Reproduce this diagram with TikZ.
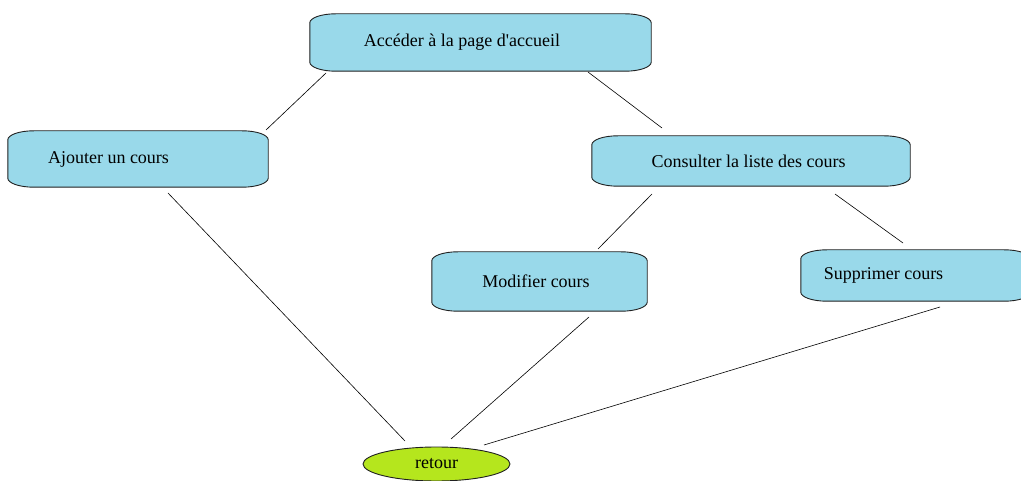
\documentclass[tikz,border=0pt]{standalone}
\usepackage{fontspec}
% plain family: keeps the straight apostrophe as typed
\newfontfamily\labelfont{Liberation Serif}
\usetikzlibrary{backgrounds,shapes.geometric}

\definecolor{boxblue}{HTML}{99D9EA}
\definecolor{ovalgreen}{HTML}{B5E61D}
\definecolor{edgegray}{HTML}{202020}

\tikzset{
  usecase/.style={rectangle, draw=none, inner sep=0pt,
    font=\labelfont\fontsize{18}{20}\selectfont, text=black},
  capsulepath/.style={fill=boxblue, draw=edgegray, line width=0.9pt},
  retourstyle/.style={ellipse, fill=ovalgreen, draw=edgegray, line width=0.9pt,
    inner sep=0pt, font=\labelfont\fontsize{18}{20}\selectfont},
  link/.style={draw=black, line width=0.6pt},
}

% Rectangle with flattened elliptical corners drawn behind node #1
\newcommand\capsuleshape[1]{%
  \path[capsulepath]
    ([xshift=26pt]#1.north west) -- ([xshift=-26pt]#1.north east)
    arc[start angle=90, end angle=0, x radius=26pt, y radius=9pt]
    -- ([yshift=9pt]#1.south east)
    arc[start angle=0, end angle=-90, x radius=26pt, y radius=9pt]
    -- ([xshift=26pt]#1.south west)
    arc[start angle=270, end angle=180, x radius=26pt, y radius=9pt]
    -- ([yshift=-9pt]#1.north west)
    arc[start angle=180, end angle=90, x radius=26pt, y radius=9pt]
    -- cycle;}

\begin{document}
\begin{tikzpicture}[x=1pt, y=-1pt]
  \useasboundingbox (0,0) rectangle (1021,481);
  \clip (0,0) rectangle (1021,481);

  % use cases
  \node[usecase, minimum width=341pt, minimum height=57pt] (acc) at (480.5,42.5)
    {Accéder à la page d'accueil\hspace*{37pt}};
  \node[usecase, minimum width=260pt, minimum height=56pt] (ajout) at (138,159)
    {Ajouter un cours\hspace*{59pt}};
  \node[usecase, minimum width=318pt, minimum height=50pt] (liste) at (751,161)
    {Consulter la liste des cours\hspace*{5pt}};
  \node[usecase, minimum width=215pt, minimum height=59pt] (modif) at (539.5,281.5)
    {Modifier cours\hspace*{7pt}};
  \node[usecase, minimum width=229pt, minimum height=51pt] (suppr) at (915.5,275.5)
    {Supprimer cours\hspace*{64pt}};
  \node[retourstyle, minimum width=147pt, minimum height=34pt] (ret) at (436.5,464)
    {\raisebox{-2pt}{retour}};

  \begin{scope}[on background layer]
    \capsuleshape{acc}
    \capsuleshape{ajout}
    \capsuleshape{liste}
    \capsuleshape{modif}
    \capsuleshape{suppr}
  \end{scope}

  % connector end points (lines stop short of the shapes)
  \coordinate (acc-l)   at (326,73);
  \coordinate (ajout-t) at (266,130);
  \coordinate (acc-r)   at (588,72);
  \coordinate (liste-t) at (662,128);
  \coordinate (liste-l) at (652,194);
  \coordinate (modif-t) at (598,249);
  \coordinate (liste-r) at (835,194);
  \coordinate (suppr-t) at (903,243);
  \coordinate (ajout-b) at (168,193);
  \coordinate (ret-l)   at (405,441);
  \coordinate (modif-b) at (589,317);
  \coordinate (ret-m)   at (451,439);
  \coordinate (suppr-b) at (940,307);
  \coordinate (ret-r)   at (484,445);

  \draw[link] (acc-l) -- (ajout-t);
  \draw[link] (acc-r) -- (liste-t);
  \draw[link] (liste-l) -- (modif-t);
  \draw[link] (liste-r) -- (suppr-t);
  \draw[link] (ajout-b) -- (ret-l);
  \draw[link] (modif-b) -- (ret-m);
  \draw[link] (suppr-b) -- (ret-r);
\end{tikzpicture}
\end{document}
